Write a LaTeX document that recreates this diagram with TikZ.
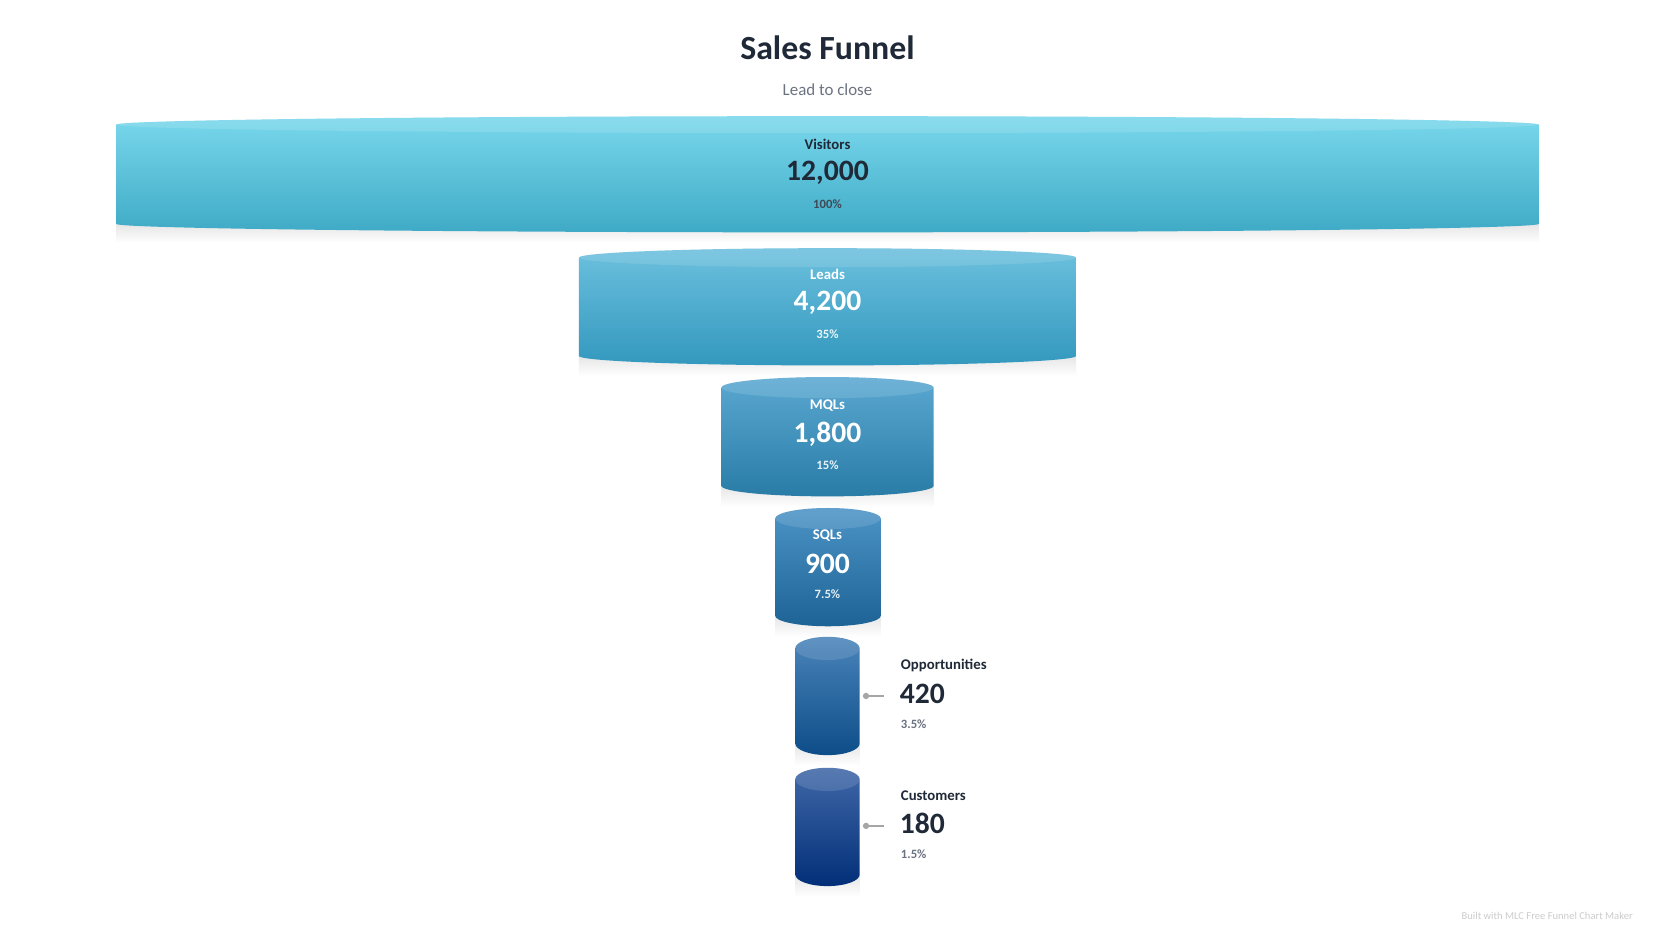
\documentclass[tikz,border=0pt]{standalone}
\usepackage{fontspec}
\setmainfont{Carlito}
\definecolor{ink}{HTML}{1F2937}
\definecolor{muted}{HTML}{6B7280}
\definecolor{visT}{HTML}{79D8EC}\definecolor{visB}{HTML}{3FAAC6}
\definecolor{leaT}{HTML}{6CC0DE}\definecolor{leaB}{HTML}{3398BE}
\definecolor{mqlT}{HTML}{5BA8D2}\definecolor{mqlB}{HTML}{287CA6}
\definecolor{sqlT}{HTML}{4C93C6}\definecolor{sqlB}{HTML}{1D6396}
\definecolor{oppT}{HTML}{4A84BA}\definecolor{oppB}{HTML}{0D4D88}
\definecolor{cusT}{HTML}{4068A8}\definecolor{cusB}{HTML}{022F78}
% #1 x left, #2 x right, #3 y top, #4 y bottom, #5 y radius, #6 top colour, #7 bottom colour
\newcommand\funnelcyl[7]{%
  \shade[top color=black!10, bottom color=white] (#1,#4) rectangle (#2,#4+#5+10);
  \shade[top color=#6, bottom color=#7]
    (#1,#3) arc[start angle=180, end angle=0, x radius={(#2-#1)*0.25pt}, y radius={#5*0.5pt}]
    -- (#2,#4) arc[start angle=0, end angle=-180, x radius={(#2-#1)*0.25pt}, y radius={#5*0.5pt}]
    -- cycle;
  \fill[white, opacity=0.12] ({(#1+#2)/2},#3) ellipse[x radius={(#2-#1)*0.25pt}, y radius={#5*0.5pt}];
}
\tikzset{
  stage/.style={font=\bfseries\fontsize{7}{8}\selectfont},
  value/.style={font=\bfseries\fontsize{14}{16}\selectfont},
  share/.style={font=\bfseries\fontsize{6}{7}\selectfont},
  side/.style={anchor=west, text=ink},
  leader/.style={draw=black!35, line width=0.6pt},
}
\begin{document}
\begin{tikzpicture}[x=0.5pt, y=-0.5pt]
  \useasboundingbox (0,0) rectangle (1568,881);
  \fill[white] (0,0) rectangle (1568,881);

  \node[text=ink, font=\bfseries\fontsize{16}{18}\selectfont] (title) at (783.5,45) {Sales Funnel};
  \node[text=muted, font=\fontsize{8}{9}\selectfont] (subtitle) at (783.5,85) {Lead to close};

  \funnelcyl{110}{1457}{118}{212}{8}{visT}{visB}
  \funnelcyl{548}{1019}{244}{337}{9}{leaT}{leaB}
  \funnelcyl{683}{884}{367}{460}{10}{mqlT}{mqlB}
  \funnelcyl{734}{834}{491}{583}{10}{sqlT}{sqlB}
  \funnelcyl{753}{814}{614}{704}{11}{oppT}{oppB}
  \funnelcyl{753}{814}{738}{828}{11}{cusT}{cusB}

  \node[stage, text=ink] (visname) at (783.5,137) {Visitors};
  \node[value, text=ink] (visval) at (783.5,164) {12,000};
  \node[share, text=ink!85] (visshare) at (783.5,193) {100\%};

  \node[stage, text=white] (leaname) at (783.5,260) {Leads};
  \node[value, text=white] (leaval) at (783.5,287) {4,200};
  \node[share, text=white!85!leaT] (leashare) at (783.5,316) {35\%};

  \node[stage, text=white] (mqlname) at (783.5,384) {MQLs};
  \node[value, text=white] (mqlval) at (783.5,411) {1,800};
  \node[share, text=white!85!mqlT] (mqlshare) at (783.5,440) {15\%};

  \node[stage, text=white] (sqlname) at (783.5,507) {SQLs};
  \node[value, text=white] (sqlval) at (783.5,534) {900};
  \node[share, text=white!85!sqlT] (sqlshare) at (783.5,563) {7.5\%};

  \coordinate (oppdot) at (820,659);
  \coordinate (oppend) at (837,659);
  \node[stage, side] (oppname) at (846,630) {Opportunities};
  \node[value, side] (oppval) at (845,657) {420};
  \node[share, side, text=muted] (oppshare) at (846,686) {3.5\%};
  \draw[leader] (oppdot) -- (oppend);
  \fill[black!35] (oppdot) circle[radius=1.5pt];

  \coordinate (cusdot) at (820,782);
  \coordinate (cusend) at (837,782);
  \node[stage, side] (cusname) at (846,753) {Customers};
  \node[value, side] (cusval) at (845,780) {180};
  \node[share, side, text=muted] (cusshare) at (846,809) {1.5\%};
  \draw[leader] (cusdot) -- (cusend);
  \fill[black!35] (cusdot) circle[radius=1.5pt];

  \node[text=black!20, anchor=east, font=\fontsize{5}{6}\selectfont] (credit) at (1553,867) {Built with MLC Free Funnel Chart Maker};
\end{tikzpicture}
\end{document}
